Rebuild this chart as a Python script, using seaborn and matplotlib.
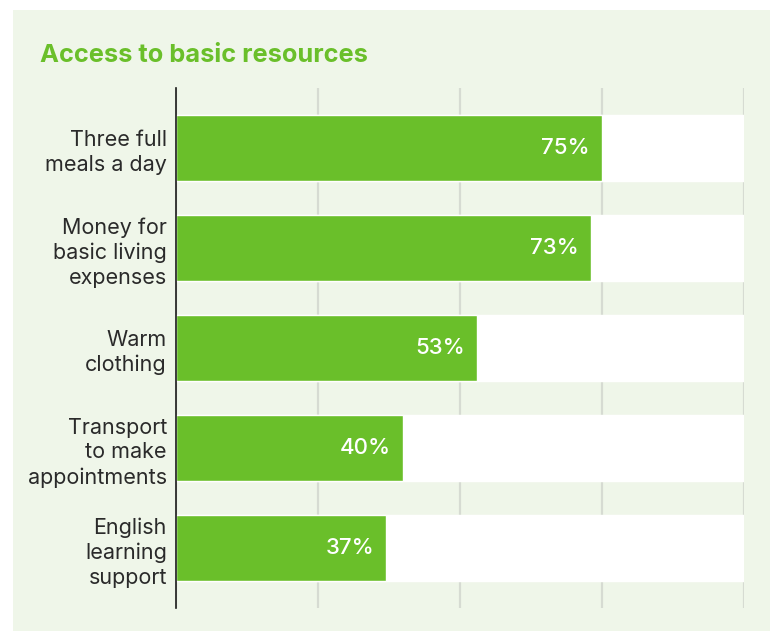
import matplotlib
matplotlib.use("Agg")
import matplotlib.pyplot as plt
import seaborn as sns
import pandas as pd

categories = [
    "Three full\nmeals a day",
    "Money for\nbasic living\nexpenses",
    "Warm\nclothing",
    "Transport\nto make\nappointments",
    "English\nlearning\nsupport",
]
values = [75, 73, 53, 40, 37]
full_scale = [100, 100, 100, 100, 100]
x_ticks = [0, 25, 50, 75, 100]

GREEN = "#6abf2a"
PANEL = "#eff6e9"
GRID = "#d6dbd2"
TEXT = "#2a2a2a"

df = pd.DataFrame({"category": categories, "value": values, "full": full_scale})

sns.set_theme(style="white")
plt.rcParams["font.family"] = ["Inter", "DejaVu Sans"]

W, H = 770, 631
fig = plt.figure(figsize=(W / 100, H / 100), dpi=100)
fig.patch.set_facecolor("white")

# light green panel behind the chart
bg = fig.add_axes([13 / W, 0, 1 - 13 / W, 1 - 10 / H], zorder=0)
bg.set_facecolor(PANEL)
bg.set_xticks([])
bg.set_yticks([])
for s in bg.spines.values():
    s.set_visible(False)

ax = fig.add_axes([176 / W, 1 - 608 / H, (744 - 176) / W, (608 - 88) / H], zorder=1)
ax.set_facecolor("none")

sns.barplot(data=df, y="category", x="full", orient="h", color="white",
            width=0.66, saturation=1, ax=ax, zorder=2)
sns.barplot(data=df, y="category", x="value", orient="h", color=GREEN,
            width=0.66, saturation=1, ax=ax, zorder=3)

ax.set_xlim(0, 100)
ax.set_ylim(4.6, -0.605)
ax.set_xticks(x_ticks)
ax.set_xticklabels([])
ax.xaxis.grid(True, color=GRID, linewidth=1.6, zorder=1)
ax.set_axisbelow(True)
ax.tick_params(axis="both", length=0)
ax.tick_params(axis="y", pad=6.5)
ax.set_xlabel("")
ax.set_ylabel("")

for lbl in ax.get_yticklabels():
    lbl.set_fontsize(15.5)
    lbl.set_color(TEXT)
    lbl.set_linespacing(1.3)
    lbl.set_horizontalalignment("right")
    lbl.set_multialignment("right")

for side in ["top", "right", "bottom"]:
    ax.spines[side].set_visible(False)
ax.spines["left"].set_color("#1a1a1a")
ax.spines["left"].set_linewidth(1.2)
ax.spines["left"].set_zorder(5)

for i, v in enumerate(values):
    ax.annotate(f"{v}%", xy=(v, i), xytext=(-12, 0), textcoords="offset pixels",
                ha="right", va="center", color="white", fontsize=16,
                fontweight="medium", zorder=6)

fig.text(40 / W, 1 - 55 / H, "Access to basic resources", color=GREEN,
         fontsize=18.3, fontweight="bold", ha="left", va="center")

fig.savefig("out.png", dpi=100)
